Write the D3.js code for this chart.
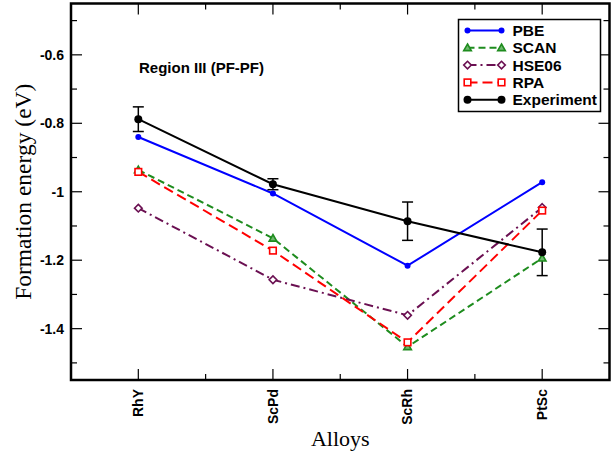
<!DOCTYPE html>
<html><head><meta charset="utf-8">
<script src="https://cdn.jsdelivr.net/npm/d3@7"></script>
<style>
html,body{margin:0;padding:0;background:#fff;}
svg{display:block;}
</style>
</head><body>
<svg id="chart" width="616" height="455"></svg>
<script>
const categories = ["RhY", "ScPd", "ScRh", "PtSc"];
const pbe        = [-0.840, -1.005, -1.216, -0.972];
const scan       = [-0.936, -1.136, -1.453, -1.194];
const hse06      = [-1.048, -1.257, -1.361, -1.046];
const rpa        = [-0.942, -1.172, -1.440, -1.055];
const experiment = [-0.788, -0.978, -1.086, -1.177];
const expError   = [0.036, 0.016, 0.056, 0.068];
const yMajorTicks = [-0.6, -0.8, -1.0, -1.2, -1.4];
const yTickLabels = ["-0.6", "-0.8", "-1", "-1.2", "-1.4"];
const yMinorTicks = [-0.5, -0.7, -0.9, -1.1, -1.3, -1.5];
const xMinorTicks = [1.5, 2.5, 3.5];
const annotation = "Region III (PF-PF)";

const series = [
  {name: "PBE", values: pbe, color: "#0000ff", dash: null, marker: "circle"},
  {name: "SCAN", values: scan, color: "#1e8c1e", dash: "7,4", marker: "triangle"},
  {name: "HSE06", values: hse06, color: "#6b1052", dash: "9,4,2,4", marker: "diamond"},
  {name: "RPA", values: rpa, color: "#ff0000", dash: "10,5", marker: "square"},
  {name: "Experiment", values: experiment, color: "#000000", dash: null, marker: "bigcircle"}
];

const L = 71, R = 609.5, T = 3.5, B = 380;
const svg = d3.select("#chart");
const x = d3.scaleLinear().domain([0.5, 4.5]).range([L, R]);
const y = d3.scaleLinear().domain([-1.55, -0.45]).range([B, T]);
const xi = i => x(i + 1);

const sans = "'Liberation Sans', Arial, Helvetica, sans-serif";
const serif = "'Liberation Serif', 'Times New Roman', serif";

// ticks (inward, mirrored)
const tickG = svg.append("g").attr("stroke", "#000").attr("stroke-width", 1.2);
yMajorTicks.forEach(v => {
  tickG.append("line").attr("x1", L).attr("x2", L + 11).attr("y1", y(v)).attr("y2", y(v));
  tickG.append("line").attr("x1", R).attr("x2", R - 11).attr("y1", y(v)).attr("y2", y(v));
});
yMinorTicks.forEach(v => {
  tickG.append("line").attr("x1", L).attr("x2", L + 6).attr("y1", y(v)).attr("y2", y(v));
  tickG.append("line").attr("x1", R).attr("x2", R - 6).attr("y1", y(v)).attr("y2", y(v));
});
categories.forEach((c, i) => {
  tickG.append("line").attr("x1", xi(i)).attr("x2", xi(i)).attr("y1", B).attr("y2", B - 11);
  tickG.append("line").attr("x1", xi(i)).attr("x2", xi(i)).attr("y1", T).attr("y2", T + 11);
});
xMinorTicks.forEach(v => {
  tickG.append("line").attr("x1", x(v)).attr("x2", x(v)).attr("y1", B).attr("y2", B - 6);
  tickG.append("line").attr("x1", x(v)).attr("x2", x(v)).attr("y1", T).attr("y2", T + 6);
});

// tick labels
yMajorTicks.forEach((v, i) => {
  svg.append("text").attr("x", 64).attr("y", y(v)).attr("dy", "0.35em")
    .attr("text-anchor", "end").attr("font-family", sans).attr("font-weight", "bold")
    .attr("font-size", 14).text(yTickLabels[i]);
});
categories.forEach((c, i) => {
  svg.append("text").attr("transform", `translate(${xi(i)},389) rotate(-90)`)
    .attr("dy", "0.35em").attr("text-anchor", "end").attr("font-family", sans)
    .attr("font-weight", "bold").attr("font-size", 14).text(c);
});

// axis titles
svg.append("text").attr("transform", `translate(31,${(T + B) / 2}) rotate(-90)`)
  .attr("text-anchor", "middle").attr("font-family", serif).attr("font-size", 23.5)
  .text("Formation energy (eV)");
svg.append("text").attr("x", (L + R) / 2).attr("y", 446).attr("text-anchor", "middle")
  .attr("font-family", serif).attr("font-size", 22).text("Alloys");

// annotation
svg.append("text").attr("x", 139).attr("y", 73).attr("font-family", sans)
  .attr("font-weight", "bold").attr("font-size", 15).text(annotation);

// lines
const line = d3.line().x((d, i) => xi(i)).y(d => y(d));
const lineG = svg.append("g");
series.forEach(s => {
  lineG.append("path").attr("d", line(s.values)).attr("fill", "none")
    .attr("stroke", s.color).attr("stroke-width", 2)
    .attr("stroke-dasharray", s.dash);
});

// error bars
const errG = svg.append("g").attr("stroke", "#000").attr("stroke-width", 1.5);
experiment.forEach((v, i) => {
  const cx = xi(i), e = expError[i];
  errG.append("line").attr("x1", cx).attr("x2", cx).attr("y1", y(v - e)).attr("y2", y(v + e));
  errG.append("line").attr("x1", cx - 5.5).attr("x2", cx + 5.5).attr("y1", y(v - e)).attr("y2", y(v - e));
  errG.append("line").attr("x1", cx - 5.5).attr("x2", cx + 5.5).attr("y1", y(v + e)).attr("y2", y(v + e));
});

function drawMarker(g, type, cx, cy, color) {
  if (type === "circle") {
    g.append("circle").attr("cx", cx).attr("cy", cy).attr("r", 3).attr("fill", color);
  } else if (type === "bigcircle") {
    g.append("circle").attr("cx", cx).attr("cy", cy).attr("r", 4).attr("fill", color);
  } else if (type === "triangle") {
    g.append("path").attr("d", `M${cx},${cy - 3.8}L${cx + 3.8},${cy + 2.8}L${cx - 3.8},${cy + 2.8}Z`)
      .attr("fill", "#6fb86f").attr("stroke", color).attr("stroke-width", 1.6);
  } else if (type === "diamond") {
    g.append("path").attr("d", `M${cx},${cy - 3.8}L${cx + 3.8},${cy}L${cx},${cy + 3.8}L${cx - 3.8},${cy}Z`)
      .attr("fill", "#fff").attr("stroke", color).attr("stroke-width", 1.6);
  } else if (type === "square") {
    g.append("rect").attr("x", cx - 3.3).attr("y", cy - 3.3).attr("width", 6.6).attr("height", 6.6)
      .attr("fill", "#fff").attr("stroke", color).attr("stroke-width", 1.6);
  }
}

const markG = svg.append("g");
series.forEach(s => {
  s.values.forEach((v, i) => drawMarker(markG, s.marker, xi(i), y(v), s.color));
});

// frame
svg.append("rect").attr("x", L).attr("y", T).attr("width", R - L).attr("height", B - T)
  .attr("fill", "none").attr("stroke", "#000").attr("stroke-width", 2.5);

// legend
const lg = svg.append("g");
lg.append("rect").attr("x", 458.5).attr("y", 19.5).attr("width", 142).attr("height", 92)
  .attr("fill", "#fff").attr("stroke", "#000").attr("stroke-width", 1.5);
series.forEach((s, k) => {
  const ly = 30.5 + k * 17.3;
  lg.append("line").attr("x1", 467.5).attr("x2", 501.5).attr("y1", ly).attr("y2", ly)
    .attr("stroke", s.color).attr("stroke-width", 2).attr("stroke-dasharray", s.dash);
  drawMarker(lg, s.marker, 467.5, ly, s.color);
  drawMarker(lg, s.marker, 501.5, ly, s.color);
  lg.append("text").attr("x", 512.5).attr("y", ly).attr("dy", "0.36em")
    .attr("font-family", sans).attr("font-weight", "bold").attr("font-size", 15.5).text(s.name);
});
</script>
</body></html>
